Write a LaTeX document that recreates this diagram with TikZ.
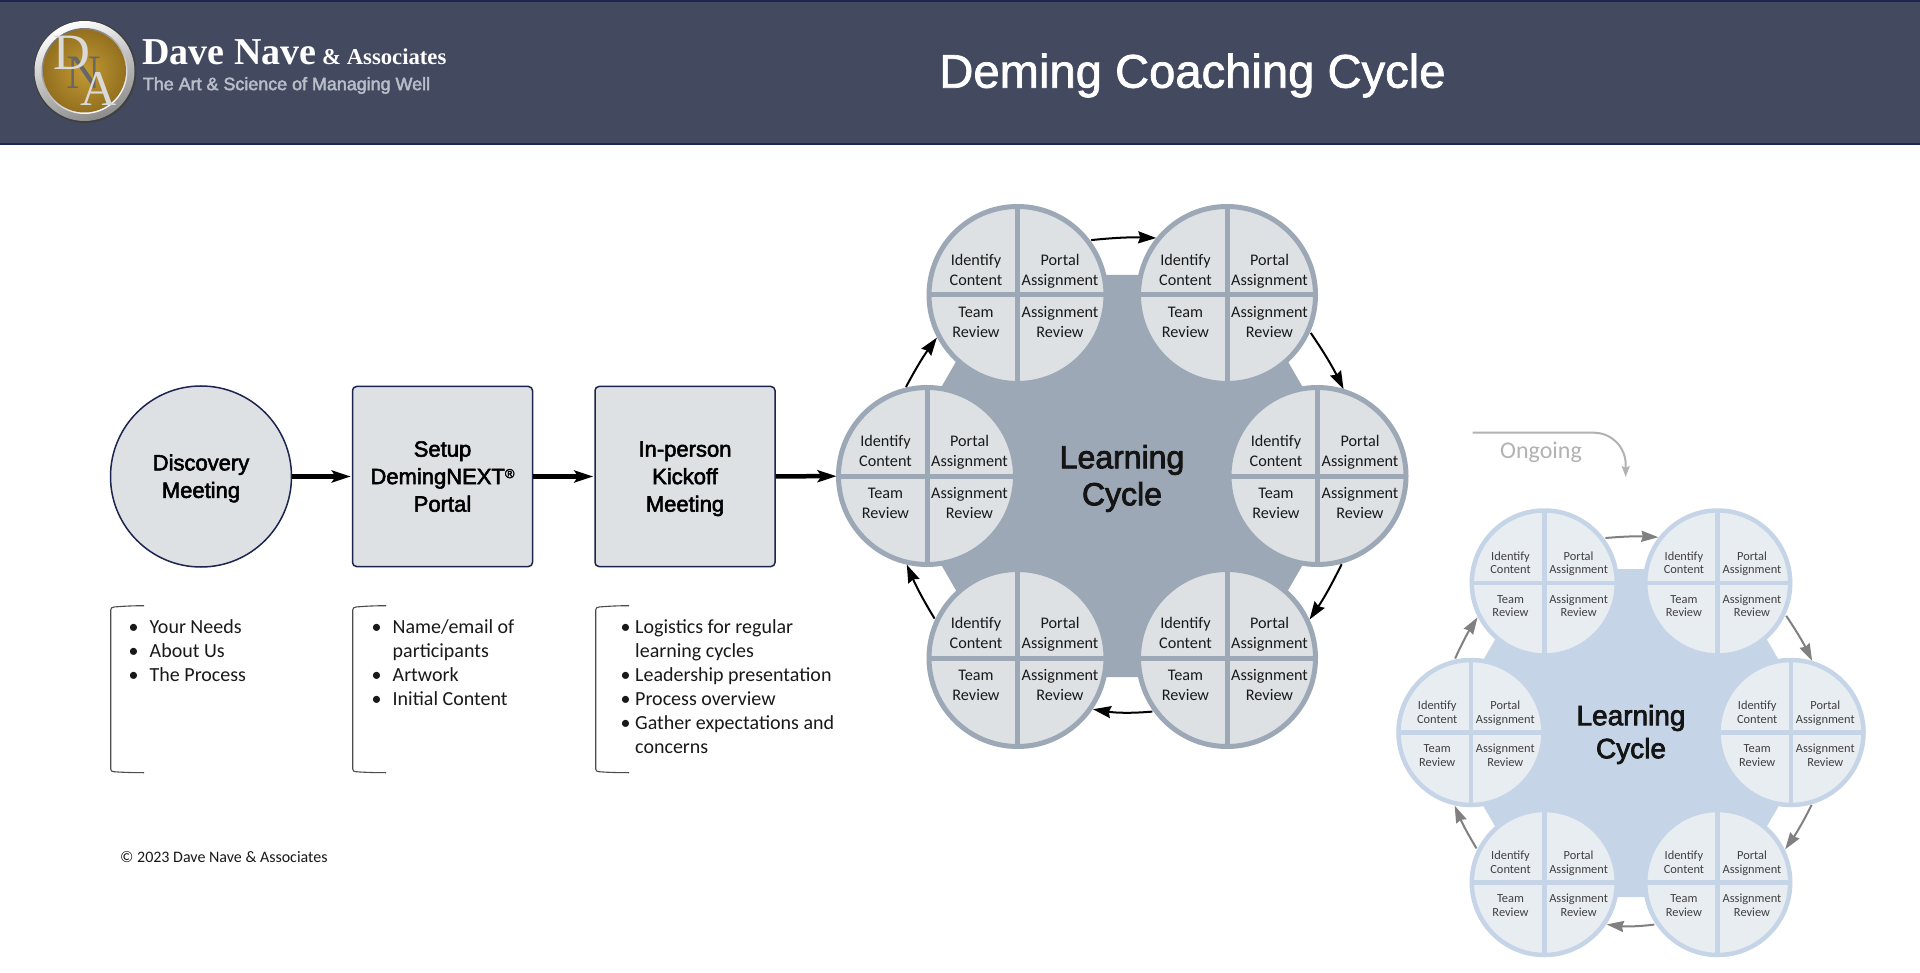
\documentclass[tikz,border=0pt]{standalone}
\usepackage{fontspec}
\usetikzlibrary{arrows.meta,shadings}
\setmainfont{Carlito}
\newfontfamily\robm{Liberation Sans}[FakeBold=2.5]
\newfontfamily\robt{Liberation Sans}[FakeBold=1.5]
\newfontfamily\serifb{Liberation Serif}[BoldFont={Liberation Serif Bold}]
\definecolor{hdr}{HTML}{434A60}
\definecolor{navy}{HTML}{1C2450}
\definecolor{boxf}{HTML}{DEE1E4}
\definecolor{bigl}{HTML}{9CA8B6}
\definecolor{smll}{HTML}{C5D4E6}
\definecolor{smlf}{HTML}{E8EDF2}
\definecolor{sil}{HTML}{B9BDC8}
\definecolor{hsgold}{HTML}{C39A35}
\definecolor{hsgolddark}{HTML}{94701F}
\tikzset{
  bigcirc/.style={circle,draw=bigl,fill=boxf,line width=5pt,minimum size=177pt,inner sep=0pt,outer sep=0pt},
  smlcirc/.style={circle,draw=smll,fill=smlf,line width=4.5pt,minimum size=145pt,inner sep=0pt,outer sep=0pt},
  biglab/.style={align=center,inner sep=0pt,text=black!90,font=\fontsize{16.2}{20}\selectfont},
  smllab/.style={align=center,inner sep=0pt,text=black!75,font=\fontsize{12.4}{13.5}\selectfont},
  stagebox/.style={draw=navy,fill=boxf,line width=1.5pt,inner sep=0pt,align=center,minimum size=180pt,
     font=\robm\fontsize{22}{27.5}\selectfont},
  flowarrow/.style={line width=4.5pt,black,shorten >=1pt,-{Stealth[length=19pt,width=12pt,inset=4pt]}},
  cyclearrow/.style={line width=2pt,black,shorten <=4pt,shorten >=3pt,-{Stealth[length=18pt,width=12pt,inset=2pt]}},
  smlarrow/.style={line width=2pt,black!50,shorten <=4pt,shorten >=3pt,-{Stealth[length=17pt,width=11pt,inset=1.5pt]}},
  listtext/.style={anchor=north west,inner sep=0pt,align=left,text=black!90,font=\fontsize{20}{24}\selectfont},
  bracket/.style={draw=black!70,line width=1.1pt},
  logoletter/.style={inner sep=0pt,text=white!85!black},
}
\newcommand{\bul}[1][21pt]{\makebox[#1][l]{•}}
\newcommand{\cont}[1][21pt]{\hspace*{#1}}
\newcommand{\twol}[2]{\strut #1\\\strut #2}
\newcommand{\upstrut}{\rule{0pt}{23.5pt}}
\newcommand{\bigcell}[3]{%
  \node[bigcirc] (#1) at (#2,#3) {};
  \draw[bigl,line width=5pt] (#1.north) -- (#1.south);
  \draw[bigl,line width=5pt] (#1.west) -- (#1.east);
  \node[biglab] (#1a) at (#2-41.5,#3-23.75) {\twol{Identify}{Content}};
  \node[biglab] (#1b) at (#2+42.5,#3-23.75) {\twol{Portal}{Assignment}};
  \node[biglab] (#1c) at (#2-41.5,#3+28.75) {\twol{Team}{Review}};
  \node[biglab] (#1d) at (#2+42.5,#3+28.75) {\twol{Assignment}{Review}};
}
\newcommand{\smlcell}[3]{%
  \node[smlcirc] (#1) at (#2,#3) {};
  \draw[smll,line width=4.5pt] (#1.north) -- (#1.south);
  \draw[smll,line width=4.5pt] (#1.west) -- (#1.east);
  \node[smllab] (#1a) at (#2-33.8,#3-18.5) {\twol{Identify}{Content}};
  \node[smllab] (#1b) at (#2+34.3,#3-18.5) {\twol{Portal}{Assignment}};
  \node[smllab] (#1c) at (#2-33.8,#3+24.5) {\twol{Team}{Review}};
  \node[smllab] (#1d) at (#2+34.3,#3+24.5) {\twol{Assignment}{Review}};
}
\begin{document}
\begin{tikzpicture}[x=1pt,y=-1pt]
\useasboundingbox (0,0) rectangle (1920,973);
\fill[white] (0,0) rectangle (1920,973);
% header
\draw[navy,fill=hdr,line width=1.5pt] (-2,0.8) rectangle (1922,144);
% logo
\fill[black!75] (85,71.5) circle (51.5);
\shade[top color=white,bottom color=black!45,middle color=black!25,shading angle=20] (84.5,71) circle (50);
\shade[left color=black!55,right color=white,shading angle=30] (84.5,71) circle (43);
\shade[inner color=hsgold,outer color=hsgolddark] (84.5,71) circle (41.5);
\node[logoletter,text=black!60,font=\serifb\fontsize{48}{48}\selectfont] (logoN) at (83.5,73) {N};
\node[logoletter,font=\serifb\fontsize{51}{51}\selectfont] (logoD) at (71.5,53) {D};
\node[logoletter,font=\serifb\fontsize{50}{50}\selectfont] (logoA) at (99,88.5) {A};
\node[anchor=base west,inner sep=0pt,text=white,font=\serifb\bfseries\fontsize{38}{38}\selectfont] (dn) at (142,65) {Dave Nave};
\node[anchor=base west,inner sep=0pt,text=white,font=\serifb\bfseries\fontsize{22.7}{23}\selectfont] (assoc) at (322,65) {\& Associates};
\node[anchor=center,inner sep=0pt,text=sil,font=\robm\fontsize{17.9}{20}\selectfont] (tag) at (286.5,85.5) {The Art \& Science of Managing Well};
\node[inner sep=0pt,text=white,font=\robt\fontsize{47.2}{48}\selectfont] (title) at (1192.5,75.5) {Deming Coaching Cycle};
% stages
\node[circle,stagebox,minimum size=181pt] (disc) at (201,476.5) {\upstrut Discovery\\\strut Meeting};
\node[stagebox,rounded corners=4pt] (setup) at (442.5,476.5) {\upstrut Setup\\\strut DemingNEXT\raisebox{6pt}{\fontsize{13}{13}\selectfont ®}\\\strut Portal};
\node[stagebox,rounded corners=4pt] (kick) at (685,476.5) {\upstrut In-person\\\strut Kickoff\\\strut Meeting};
% brackets and lists
\draw[bracket] (144,605.7) .. controls (130,605.7) and (120,606.5) .. (114,607) .. controls (112,607.2) and (110.7,608) .. (110.7,610) -- (110.7,769) .. controls (110.7,771) and (112,771.5) .. (114,771.7) .. controls (120,772.2) and (130,772.7) .. (144,772.7);
\draw[bracket] (386,605.7) .. controls (372,605.7) and (362,606.5) .. (356,607) .. controls (354,607.2) and (352.7,608) .. (352.7,610) -- (352.7,769) .. controls (352.7,771) and (354,771.5) .. (356,771.7) .. controls (362,772.2) and (372,772.7) .. (386,772.7);
\draw[bracket] (629,605.7) .. controls (615,605.7) and (605,606.5) .. (599,607) .. controls (597,607.2) and (595.7,608) .. (595.7,610) -- (595.7,769) .. controls (595.7,771) and (597,771.5) .. (599,771.7) .. controls (605,772.2) and (615,772.7) .. (629,772.7);
\node[listtext] (l1) at (128.5,619) {\bul Your Needs\\\bul About Us\\\bul The Process};
\node[listtext] (l2) at (371.5,619) {\bul Name/email of\\\cont participants\\\bul Artwork\\\bul Initial Content};
\node[listtext] (l3) at (620.5,619) {\bul[10pt] Logistics for regular\\\cont[10pt] learning cycles\\\bul[10pt] Leadership presentation\\\bul[10pt] Process overview\\\bul[10pt] Gather expectations and\\\cont[10pt] concerns};
\node[anchor=base west,inner sep=0pt,font=\fontsize{16}{16}\selectfont,text=black!90] (copy) at (120,862) {© 2023 Dave Nave \& Associates};
% large cycle
\fill[bigl] (1006,275) -- (1238,275) -- (1354,476) -- (1238,677) -- (1006,677) -- (890,476) -- cycle;
\bigcell{A}{1017.5}{295}
\bigcell{B}{1227}{295}
\bigcell{C}{1317.5}{476}
\bigcell{D}{1227}{658}
\bigcell{E}{1017.5}{658}
\bigcell{F}{927}{476}
\node[inner sep=0pt,align=center,text=black!92,font=\robm\fontsize{32}{37}\selectfont] (lc) at (1122,478.5) {Learning\\Cycle};
\draw[cyclearrow] (A.38) to[bend left=4] (B.140);
\draw[cyclearrow] (B.-23) to[bend left=4] (C.72);
\draw[cyclearrow] (C.-73) to[bend left=4] (D.24);
\draw[cyclearrow] (D.217) to[bend left=7] (E.-35);
\draw[cyclearrow] (E.156) to[bend left=4] (F.256);
\draw[cyclearrow] (F.105) to[bend left=4] (A.207);
\draw[flowarrow] (disc) -- (setup);
\draw[flowarrow] (setup) -- (kick);
\draw[flowarrow,shorten >=2pt] (kick) -- (F);
% small cycle
\fill[smll] (1536,569) -- (1726,569) -- (1821,733) -- (1726,897) -- (1536,897) -- (1441,733) -- cycle;
\smlcell{P}{1544.3}{583}
\smlcell{Q}{1717.7}{583}
\smlcell{R}{1791}{732.5}
\smlcell{S}{1717.7}{882.5}
\smlcell{T}{1544.3}{882.5}
\smlcell{U}{1471}{732.5}
\node[inner sep=0pt,align=center,text=black!92,font=\robm\fontsize{28}{33}\selectfont] (lc2) at (1631,734.5) {Learning\\Cycle};
\draw[smlarrow] (P.38) to[bend left=4] (Q.141);
\draw[smlarrow] (Q.-24) to[bend left=4] (R.72.6);
\draw[smlarrow] (R.-72) to[bend left=4] (S.25);
\draw[smlarrow] (S.215) to[bend left=7] (T.-35);
\draw[smlarrow] (T.155) to[bend left=4] (U.256);
\draw[smlarrow] (U.104) to[bend left=4] (P.206);
% ongoing
\coordinate (ongS) at (1472.7,432.7);
\coordinate (ongE) at (1625.7,477);
\draw[line width=2pt,black!30,rounded corners=32pt,-{Stealth[length=11pt,width=8pt,inset=2pt]}] (ongS) -- (1625.7,432.7) -- (ongE);
\node[inner sep=0pt,text=black!30,font=\fontsize{24}{24}\selectfont] (ong) at (1541,452) {Ongoing};
\end{tikzpicture}
\end{document}
